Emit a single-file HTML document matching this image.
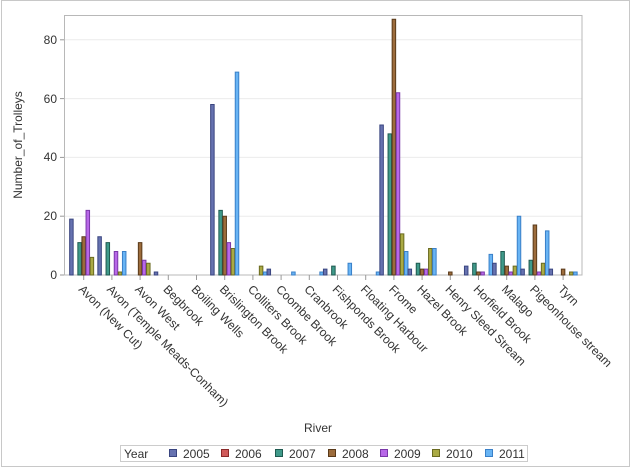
<!DOCTYPE html>
<html><head><meta charset="utf-8"><style>
html,body{margin:0;padding:0;background:#fff;}
svg{display:block;font-family:"Liberation Sans",Arial,sans-serif;}
.c0{fill:#6672b0;stroke:#3a4580}
.c1{fill:#d05a5a;stroke:#8a2a2a}
.c2{fill:#3f9a8a;stroke:#1f5a50}
.c3{fill:#9c6c3c;stroke:#5a3a1a}
.c4{fill:#b868e8;stroke:#7a38a8}
.c5{fill:#aaaa44;stroke:#6a6a20}
.c6{fill:#68b4f4;stroke:#3a80c8}
rect.b{stroke-width:1;vector-effect:non-scaling-stroke}
</style></head><body>
<svg width="631" height="468" viewBox="0 0 631 468">
<rect x="1.5" y="0.5" width="628" height="466" fill="#fff" stroke="#c8c8c8"/>
<g stroke="#ececec" stroke-width="1">
<line x1="64" x2="582" y1="216.2" y2="216.2"/>
<line x1="64" x2="582" y1="157.4" y2="157.4"/>
<line x1="64" x2="582" y1="98.6" y2="98.6"/>
<line x1="64" x2="582" y1="39.8" y2="39.8"/>
</g>
<rect x="64.5" y="15.5" width="517.5" height="259.5" fill="none" stroke="#b8b8b8"/>
<g stroke="#999"><line x1="60" x2="64" y1="275" y2="275"/><line x1="60" x2="64" y1="216.2" y2="216.2"/><line x1="60" x2="64" y1="157.4" y2="157.4"/><line x1="60" x2="64" y1="98.6" y2="98.6"/><line x1="60" x2="64" y1="39.8" y2="39.8"/></g>
<g font-size="12" fill="#333" text-anchor="end">
<text x="57" y="279">0</text><text x="57" y="220">20</text><text x="57" y="161">40</text><text x="57" y="103">60</text><text x="57" y="44">80</text>
</g>
<text transform="translate(22,145) rotate(-90)" font-size="12" fill="#333" text-anchor="middle">Number_of_Trolleys</text>
<g stroke="#999">
<line x1="83.7" x2="83.7" y1="275" y2="280"/><line x1="111.9" x2="111.9" y1="275" y2="280"/><line x1="140.1" x2="140.1" y1="275" y2="280"/><line x1="168.3" x2="168.3" y1="275" y2="280"/><line x1="196.5" x2="196.5" y1="275" y2="280"/><line x1="224.7" x2="224.7" y1="275" y2="280"/><line x1="252.9" x2="252.9" y1="275" y2="280"/><line x1="281.1" x2="281.1" y1="275" y2="280"/><line x1="309.3" x2="309.3" y1="275" y2="280"/><line x1="337.5" x2="337.5" y1="275" y2="280"/><line x1="365.7" x2="365.7" y1="275" y2="280"/><line x1="393.9" x2="393.9" y1="275" y2="280"/><line x1="422.1" x2="422.1" y1="275" y2="280"/><line x1="450.3" x2="450.3" y1="275" y2="280"/><line x1="478.5" x2="478.5" y1="275" y2="280"/><line x1="506.7" x2="506.7" y1="275" y2="280"/><line x1="534.9" x2="534.9" y1="275" y2="280"/><line x1="563.1" x2="563.1" y1="275" y2="280"/>
</g>
<g font-size="12" fill="#333">
<text transform="translate(78,290) rotate(45)">Avon (New Cut)</text>
<text transform="translate(106.2,290) rotate(45)">Avon (Temple Meads-Conham)</text>
<text transform="translate(134.4,290) rotate(45)">Avon West</text>
<text transform="translate(162.6,290) rotate(45)">Begbrook</text>
<text transform="translate(190.8,290) rotate(45)">Boiling Wells</text>
<text transform="translate(219,290) rotate(45)">Brislington Brook</text>
<text transform="translate(247.2,290) rotate(45)">Colliters Brook</text>
<text transform="translate(275.4,290) rotate(45)">Coombe Brook</text>
<text transform="translate(303.6,290) rotate(45)">Cranbrook</text>
<text transform="translate(331.8,290) rotate(45)">Fishponds Brook</text>
<text transform="translate(360,290) rotate(45)">Floating Harbour</text>
<text transform="translate(388.2,290) rotate(45)">Frome</text>
<text transform="translate(416.4,290) rotate(45)">Hazel Brook</text>
<text transform="translate(444.6,290) rotate(45)">Henry Sleed Stream</text>
<text transform="translate(472.8,290) rotate(45)">Horfield Brook</text>
<text transform="translate(501,290) rotate(45)">Malago</text>
<text transform="translate(529.2,290) rotate(45)">Pigeonhouse stream</text>
<text transform="translate(557.4,290) rotate(45)">Tyrn</text>
</g>
<text x="318" y="432" font-size="12" fill="#333" text-anchor="middle">River</text>
<g transform="translate(83.7,275) scale(1,-2.94)"><rect class="b c0" x="-14.05" y="0" width="3.5" height="19"/><rect class="b c2" x="-5.85" y="0" width="3.5" height="11"/><rect class="b c3" x="-1.75" y="0" width="3.5" height="13"/><rect class="b c4" x="2.35" y="0" width="3.5" height="22"/><rect class="b c5" x="6.45" y="0" width="3.5" height="6"/></g>
<g transform="translate(111.9,275) scale(1,-2.94)"><rect class="b c0" x="-14.05" y="0" width="3.5" height="13"/><rect class="b c2" x="-5.85" y="0" width="3.5" height="11"/><rect class="b c4" x="2.35" y="0" width="3.5" height="8"/><rect class="b c5" x="6.45" y="0" width="3.5" height="1"/><rect class="b c6" x="10.55" y="0" width="3.5" height="8"/></g>
<g transform="translate(140.1,275) scale(1,-2.94)"><rect class="b c3" x="-1.75" y="0" width="3.5" height="11"/><rect class="b c4" x="2.35" y="0" width="3.5" height="5"/><rect class="b c5" x="6.45" y="0" width="3.5" height="4"/></g>
<g transform="translate(168.3,275) scale(1,-2.94)"><rect class="b c0" x="-14.05" y="0" width="3.5" height="1"/></g>
<g transform="translate(224.7,275) scale(1,-2.94)"><rect class="b c0" x="-14.05" y="0" width="3.5" height="58"/><rect class="b c2" x="-5.85" y="0" width="3.5" height="22"/><rect class="b c3" x="-1.75" y="0" width="3.5" height="20"/><rect class="b c4" x="2.35" y="0" width="3.5" height="11"/><rect class="b c5" x="6.45" y="0" width="3.5" height="9"/><rect class="b c6" x="10.55" y="0" width="3.5" height="69"/></g>
<g transform="translate(252.9,275) scale(1,-2.94)"><rect class="b c5" x="6.45" y="0" width="3.5" height="3"/><rect class="b c6" x="10.55" y="0" width="3.5" height="1"/></g>
<g transform="translate(281.1,275) scale(1,-2.94)"><rect class="b c0" x="-14.05" y="0" width="3.5" height="2"/><rect class="b c6" x="10.55" y="0" width="3.5" height="1"/></g>
<g transform="translate(309.3,275) scale(1,-2.94)"><rect class="b c6" x="10.55" y="0" width="3.5" height="1"/></g>
<g transform="translate(337.5,275) scale(1,-2.94)"><rect class="b c0" x="-14.05" y="0" width="3.5" height="2"/><rect class="b c2" x="-5.85" y="0" width="3.5" height="3"/><rect class="b c6" x="10.55" y="0" width="3.5" height="4"/></g>
<g transform="translate(365.7,275) scale(1,-2.94)"><rect class="b c6" x="10.55" y="0" width="3.5" height="1"/></g>
<g transform="translate(393.9,275) scale(1,-2.94)"><rect class="b c0" x="-14.05" y="0" width="3.5" height="51"/><rect class="b c2" x="-5.85" y="0" width="3.5" height="48"/><rect class="b c3" x="-1.75" y="0" width="3.5" height="87"/><rect class="b c4" x="2.35" y="0" width="3.5" height="62"/><rect class="b c5" x="6.45" y="0" width="3.5" height="14"/><rect class="b c6" x="10.55" y="0" width="3.5" height="8"/></g>
<g transform="translate(422.1,275) scale(1,-2.94)"><rect class="b c0" x="-14.05" y="0" width="3.5" height="2"/><rect class="b c2" x="-5.85" y="0" width="3.5" height="4"/><rect class="b c3" x="-1.75" y="0" width="3.5" height="2"/><rect class="b c4" x="2.35" y="0" width="3.5" height="2"/><rect class="b c5" x="6.45" y="0" width="3.5" height="9"/><rect class="b c6" x="10.55" y="0" width="3.5" height="9"/></g>
<g transform="translate(450.3,275) scale(1,-2.94)"><rect class="b c3" x="-1.75" y="0" width="3.5" height="1"/></g>
<g transform="translate(478.5,275) scale(1,-2.94)"><rect class="b c0" x="-14.05" y="0" width="3.5" height="3"/><rect class="b c2" x="-5.85" y="0" width="3.5" height="4"/><rect class="b c3" x="-1.75" y="0" width="3.5" height="1"/><rect class="b c4" x="2.35" y="0" width="3.5" height="1"/><rect class="b c6" x="10.55" y="0" width="3.5" height="7"/></g>
<g transform="translate(506.7,275) scale(1,-2.94)"><rect class="b c0" x="-14.05" y="0" width="3.5" height="4"/><rect class="b c2" x="-5.85" y="0" width="3.5" height="8"/><rect class="b c3" x="-1.75" y="0" width="3.5" height="3"/><rect class="b c4" x="2.35" y="0" width="3.5" height="1"/><rect class="b c5" x="6.45" y="0" width="3.5" height="3"/><rect class="b c6" x="10.55" y="0" width="3.5" height="20"/></g>
<g transform="translate(534.9,275) scale(1,-2.94)"><rect class="b c0" x="-14.05" y="0" width="3.5" height="2"/><rect class="b c2" x="-5.85" y="0" width="3.5" height="5"/><rect class="b c3" x="-1.75" y="0" width="3.5" height="17"/><rect class="b c4" x="2.35" y="0" width="3.5" height="1"/><rect class="b c5" x="6.45" y="0" width="3.5" height="4"/><rect class="b c6" x="10.55" y="0" width="3.5" height="15"/></g>
<g transform="translate(563.1,275) scale(1,-2.94)"><rect class="b c0" x="-14.05" y="0" width="3.5" height="2"/><rect class="b c3" x="-1.75" y="0" width="3.5" height="2"/><rect class="b c5" x="6.45" y="0" width="3.5" height="1"/><rect class="b c6" x="10.55" y="0" width="3.5" height="1"/></g>
<rect x="120.5" y="445.5" width="407" height="16" fill="#fff" stroke="#ccc"/>
<g font-size="12" fill="#333">
<text x="124" y="458">Year</text>
<rect x="169.5" y="449.5" width="7" height="7" class="c0"/><text x="183" y="458">2005</text>
<rect x="221.5" y="449.5" width="7" height="7" class="c1"/><text x="235" y="458">2006</text>
<rect x="275.5" y="449.5" width="7" height="7" class="c2"/><text x="289" y="458">2007</text>
<rect x="328.5" y="449.5" width="7" height="7" class="c3"/><text x="342" y="458">2008</text>
<rect x="380.5" y="449.5" width="7" height="7" class="c4"/><text x="394" y="458">2009</text>
<rect x="432.5" y="449.5" width="7" height="7" class="c5"/><text x="446" y="458">2010</text>
<rect x="485.5" y="449.5" width="7" height="7" class="c6"/><text x="499" y="458">2011</text>
</g>
</svg>
</body></html>
